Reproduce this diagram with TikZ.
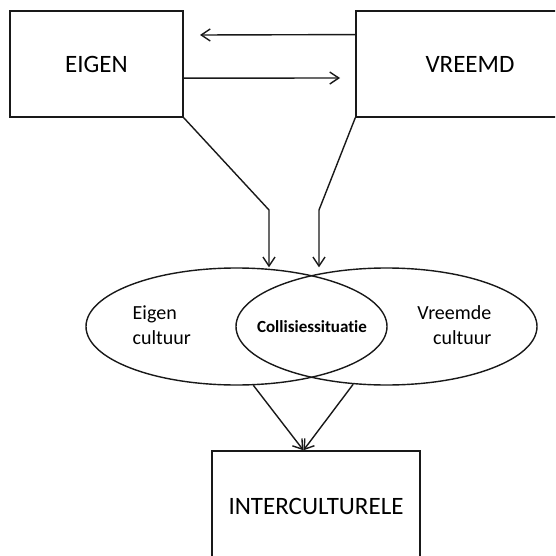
\documentclass[tikz,border=0pt]{standalone}
\usepackage{fontspec}
\setmainfont[Ligatures=NoCommon]{Carlito}
\usetikzlibrary{arrows.meta,shapes.geometric,calc}
\begin{document}
\begin{tikzpicture}[x=1pt,y=-1pt,
  line width=1.4pt,
  box/.style={draw=black!90, rectangle, inner sep=0pt, font=\fontsize{25}{30}\selectfont},
  oval/.style={draw=black!90, ellipse, inner sep=0pt, minimum width=301pt, minimum height=117pt},
  arr/.style={draw=black!90, -{Straight Barb[length=9pt,width=12pt,line width=1.4pt]}},
  lbl/.style={font=\fontsize{20}{25}\selectfont, inner sep=0pt}]
\useasboundingbox (0,0) rectangle (555,556);
\clip (0,0) rectangle (555,556);
\fill[white] (0,0) rectangle (555,556);

% the three boxes
\node[box, minimum width=173pt, minimum height=106pt] (eigen) at (96.5,64) {EIGEN};
\node[box, minimum width=228pt, minimum height=106pt] (vreemd) at (470,64) {VREEMD};
\node[box, minimum width=208pt, minimum height=110pt] (inter) at (316,506) {INTERCULTURELE};

% the two overlapping cultures
\node[oval] (le) at (236.5,326.5) {};
\node[oval] (re) at (386.5,326.5) {};
\node[lbl, align=left, anchor=west] (eigtxt) at (132,325) {Eigen\\cultuur};
\node[lbl, align=right, anchor=east] (vrtxt) at (492,325) {Vreemde\\cultuur};
\node[font=\fontsize{17}{20}\selectfont\bfseries, inner sep=0pt] (coll) at (312,327) {Collisiessituatie};

% exchange between the two boxes
\coordinate (upEnd) at (200,35);
\coordinate (loEnd) at (340,78);
\draw[arr] ($(vreemd.north west)!0.226!(vreemd.south west)$) -- (upEnd);
\draw[arr] ($(eigen.north east)!0.632!(eigen.south east)$) -- (loEnd);

% both sides feed the collision
\coordinate (bendL) at (269,210);
\coordinate (bendR) at (319,210);
\draw[arr] (eigen.south east) -- (bendL) -- (bendL |- le.north);
\draw[arr] (vreemd.south west) -- (bendR) -- (bendR |- re.north);

% both cultures lead to the intercultural result
\coordinate (meet) at ($(inter.north west)!0.44!(inter.north east)$);
\draw[arr] (le.-74) -- (meet);
\draw[arr] (re.-120) -- (meet);
\end{tikzpicture}
\end{document}
